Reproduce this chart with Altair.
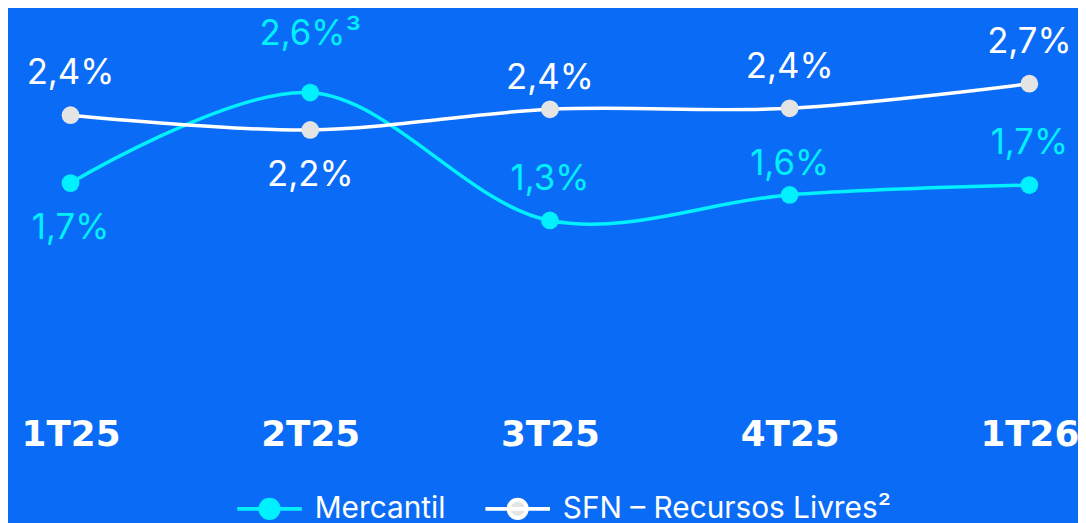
import altair as alt
import pandas as pd

# ---------------- data ----------------
quarters = ["1T25", "2T25", "3T25", "4T25", "1T26"]
series_names = ["Mercantil", "SFN – Recursos Livres²"]

mercantil = [1.68, 2.60, 1.30, 1.56, 1.66]
sfn = [2.37, 2.22, 2.43, 2.44, 2.69]

mercantil_labels = ["1,7%", "2,6%³", "1,3%", "1,6%", "1,7%"]
sfn_labels = ["2,4%", "2,2%", "2,4%", "2,4%", "2,7%"]

# where each value label sits relative to its point
mercantil_side = ["below", "high", "above", "near", "above"]
sfn_side = ["above", "below", "near", "above", "above"]

rows = []
for q, v, lab, side in zip(quarters, mercantil, mercantil_labels, mercantil_side):
    rows.append({"quarter": q, "series": series_names[0], "value": v, "label": lab, "side": side})
for q, v, lab, side in zip(quarters, sfn, sfn_labels, sfn_side):
    rows.append({"quarter": q, "series": series_names[1], "value": v, "label": lab, "side": side})
df = pd.DataFrame(rows)

# ---------------- style ----------------
BG = "#0A6CF6"
CYAN = "#00F0FF"
WHITE = "#FFFFFF"
GRAY = "#E4E4E4"

legend_symbol = ("M-1,0H1 "
                 "M-0.28,0A0.28,0.28 0 1,1 0.28,0A0.28,0.28 0 1,1 -0.28,0Z")

legend_opts = dict(
    title=None,
    orient="none",
    legendX=229,
    legendY=464,
    direction="horizontal",
    symbolType=legend_symbol,
    symbolSize=4225,
    symbolStrokeWidth=4,
    symbolOpacity=1,
    labelFont="Inter",
    labelFontSize=30,
    labelColor=WHITE,
    labelOffset=11,
    labelLimit=1000,
    columnPadding=32,
    padding=0,
)

x_enc = alt.X(
    "quarter:N",
    sort=quarters,
    title=None,
    scale=alt.Scale(type="point", range=[63, 1029], padding=0),
    axis=alt.Axis(
        labelFont="DejaVu Sans",
        labelFontWeight="bold",
        labelFontSize=36,
        labelColor=WHITE,
        labelAngle=0,
        labelPadding=70,
        labelOverlap=False,
        labelFlush=False,
        labelBound=False,
        ticks=False,
        tickSize=0,
        domain=False,
        grid=False,
    ),
)
y_enc = alt.Y("value:Q", scale=alt.Scale(domain=[0, 3.4]), axis=None)

base = alt.Chart(df).encode(x=x_enc, y=y_enc)

lines = base.mark_line(interpolate="catmull-rom", strokeWidth=3.5).encode(
    stroke=alt.Stroke(
        "series:N",
        scale=alt.Scale(domain=series_names, range=[CYAN, WHITE]),
        legend=alt.Legend(**legend_opts),
    )
)

points = base.mark_circle(size=320, opacity=1).encode(
    fill=alt.Fill(
        "series:N",
        scale=alt.Scale(domain=series_names, range=[CYAN, GRAY]),
        legend=alt.Legend(**legend_opts),
    )
)

text_color = alt.Color(
    "series:N", scale=alt.Scale(domain=series_names, range=[CYAN, WHITE]), legend=None
)

label_offsets = {"high": -48, "above": -31, "near": -20, "below": 56}


def value_labels(side):
    return base.transform_filter(alt.datum.side == side).mark_text(
        font="Inter", fontSize=35, baseline="alphabetic", align="center",
        dy=label_offsets[side],
    ).encode(text="label:N", color=text_color)


chart = (
    alt.layer(lines, points, *[value_labels(s) for s in label_offsets])
    .properties(
        width=1078,
        height=337,
        autosize=alt.AutoSizeParams(type="none"),
        padding={"left": 0, "top": 4, "right": 0, "bottom": 176},
        background=BG,
    )
    .configure_view(stroke=None)
)

chart.save("out.html", embed_options={"renderer": "svg", "actions": False})
